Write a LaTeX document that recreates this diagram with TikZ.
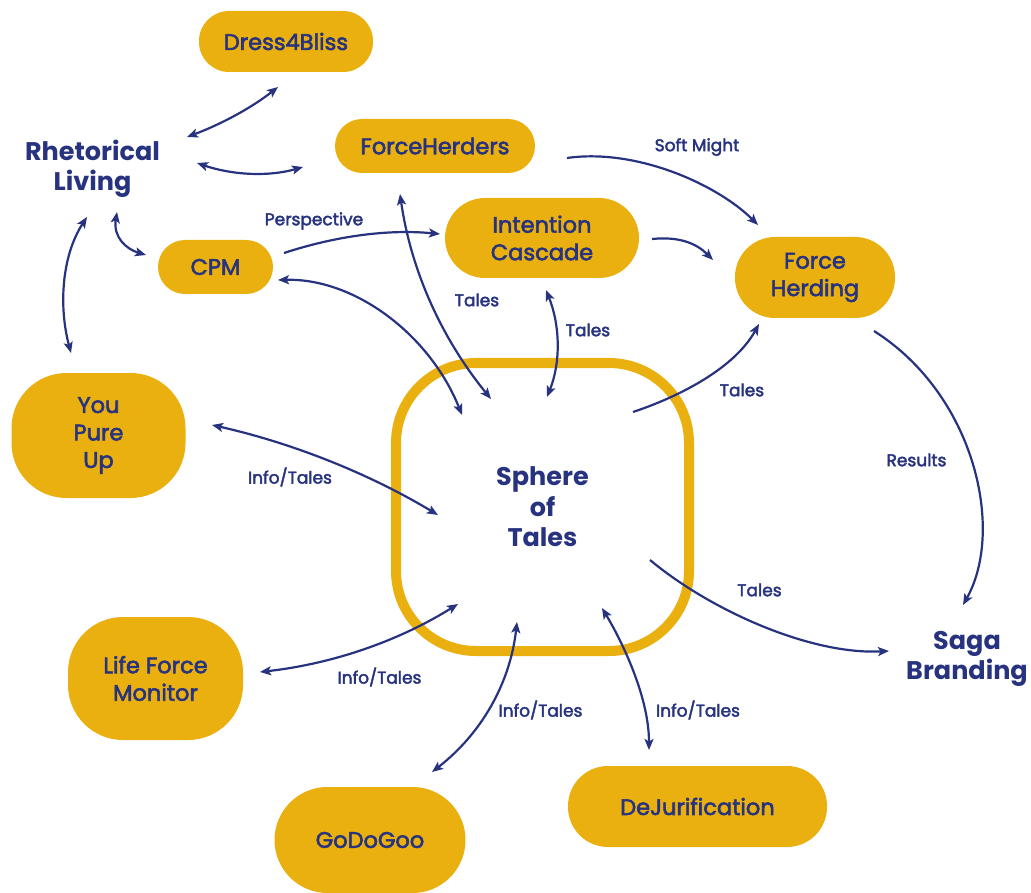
\documentclass[tikz,border=0pt]{standalone}
\usepackage{fontspec}
\setmainfont{Poppins}
\newfontfamily\medfont{Poppins}[FakeBold=2.5]
\usetikzlibrary{arrows.meta}
\definecolor{ylw}{HTML}{E9B00F}
\definecolor{blu}{HTML}{27337F}
\tikzset{
  box/.style={fill=ylw, text=blu, rounded corners=#1, align=center, inner sep=0pt,
    font=\medfont\fontsize{22.5}{27.5}\selectfont},
  head/.style={text=blu, align=center, inner sep=0pt, font=\bfseries\fontsize{25.5}{29.5}\selectfont},
  lbl/.style={text=blu, inner sep=0pt, font=\medfont\fontsize{17}{20}\selectfont},
  conn/.style={draw=blu, line width=2.2pt, >={Stealth[length=11pt,width=9pt,inset=2.5pt]}},
  bi/.style={conn, <->},
  uni/.style={conn, ->}
}
\begin{document}
\begin{tikzpicture}[x=1pt,y=-1pt]
\useasboundingbox (0,0) rectangle (1031,893);
% nodes
\node[box=30pt, minimum width=174pt, minimum height=61pt] (dress) at (286,41.5) {Dress4Bliss};
\node[head] (rl) at (92.5,169) {Rhetorical\\Living};
\node[box=27pt, minimum width=200pt, minimum height=54pt] (fh) at (435,146) {ForceHerders};
\node[box=40pt, minimum width=194pt, minimum height=80pt] (ic) at (542,238) {Intention\\Cascade};
\node[box=40pt, minimum width=160pt, minimum height=81pt] (fhg) at (815,277.5) {Force\\Herding};
\node[box=27pt, minimum width=115pt, minimum height=54pt] (cpm) at (215.5,267) {CPM};
\node[box=55pt, minimum width=174pt, minimum height=125pt] (ypu) at (98.5,435.5) {You\\Pure\\Up};
\node[box=55pt, minimum width=175pt, minimum height=123pt] (lfm) at (155.5,678.5) {Life Force\\Monitor};
\node[box=53pt, minimum width=191pt, minimum height=106pt] (god) at (370,840) {GoDoGoo};
\node[box=40pt, minimum width=259pt, minimum height=81pt] (dej) at (697.5,806.5) {DeJurification};
\node[draw=ylw, line width=10pt, rounded corners=80pt, minimum width=293pt, minimum height=288pt,
  inner sep=0pt, text=blu, align=center, font=\bfseries\fontsize{25.5}{30.5}\selectfont] (sot) at (542.5,507) {Sphere\\of\\Tales};
\node[head] (sb) at (967,659) {Saga\\Branding};
% labels
\node[lbl] (l1) at (314,221) {Perspective};
\node[lbl] (l2) at (477,300) {Tales};
\node[lbl] (l3) at (588,330) {Tales};
\node[lbl] (l4) at (697,147) {Soft Might};
\node[lbl] (l5) at (742,390) {Tales};
\node[lbl] (l6) at (916.5,460) {Results};
\node[lbl] (l7) at (759.5,590) {Tales};
\node[lbl] (l8) at (290,477) {Info/Tales};
\node[lbl] (l9) at (379.5,677) {Info/Tales};
\node[lbl] (l10) at (540.5,710) {Info/Tales};
\node[lbl] (l11) at (698,710) {Info/Tales};
% connectors
\draw[bi] ([shift={(-8,45.5)}]dress.center) .. controls +(-28,22) and +(32,-12) .. ([shift={(94.5,-32)}]rl.center);
\draw[bi] ([shift={(104.5,-6)}]rl.center) .. controls +(35,12) and +(-35,10) .. ([shift={(-132,21)}]fh.center);
\draw[bi] ([shift={(24.5,43)}]rl.center) .. controls +(-4,25) and +(-20,-6) .. ([shift={(-69.5,-12)}]cpm.center);
\draw[bi] ([shift={(-5.5,48)}]rl.center) .. controls +(-26,40) and +(-12,-45) .. ([shift={(-27.5,-82.5)}]ypu.center);
\draw[uni] ([shift={(68.5,-14)}]cpm.center) .. controls +(52,-17) and +(-52,-5) .. ([shift={(-102,-4)}]ic.center);
\draw[bi] ([shift={(62.5,13)}]cpm.center) .. controls +(77,-2) and +(-32,-80) .. ([shift={(-80.5,-92)}]sot.center);
\draw[bi] ([shift={(-35,48)}]fh.center) .. controls +(11,77) and +(-49,-60) .. ([shift={(-51.5,-108)}]sot.center);
\draw[bi] ([shift={(4,52)}]ic.center) .. controls +(14,35) and +(14,-35) .. ([shift={(4.5,-110)}]sot.center);
\draw[uni] ([shift={(110,1)}]ic.center) .. controls +(30,-3) and +(-15,-15) .. ([shift={(-102,-17.5)}]fhg.center);
\draw[uni] ([shift={(132,12)}]fh.center) .. controls +(70,-10) and +(-40,-40) .. ([shift={(-57,-52.5)}]fhg.center);
\draw[uni] ([shift={(90.5,-95)}]sot.center) .. controls +(45,-15) and +(-25,45) .. ([shift={(-56,46.5)}]fhg.center);
\draw[uni] ([shift={(59,53.5)}]fhg.center) .. controls +(101,64) and +(42,-75) .. ([shift={(-4,-54)}]sb.center);
\draw[uni] ([shift={(107.5,53)}]sot.center) .. controls +(60,50) and +(-79,4) .. ([shift={(-78,-8)}]sb.center);
\draw[bi] ([shift={(113.5,-10.5)}]ypu.center) .. controls +(80,18) and +(-70,-42) .. ([shift={(-104.5,8)}]sot.center);
\draw[bi] ([shift={(104.5,-6.5)}]lfm.center) .. controls +(71,-8) and +(-61,38) .. ([shift={(-84.5,97)}]sot.center);
\draw[bi] ([shift={(62,-68)}]god.center) .. controls +(49,-38) and +(-7,62) .. ([shift={(-25.5,115)}]sot.center);
\draw[bi] ([shift={(-48.5,-56.5)}]dej.center) .. controls +(0,-55) and +(18,30) .. ([shift={(59.5,101)}]sot.center);
\end{tikzpicture}
\end{document}
